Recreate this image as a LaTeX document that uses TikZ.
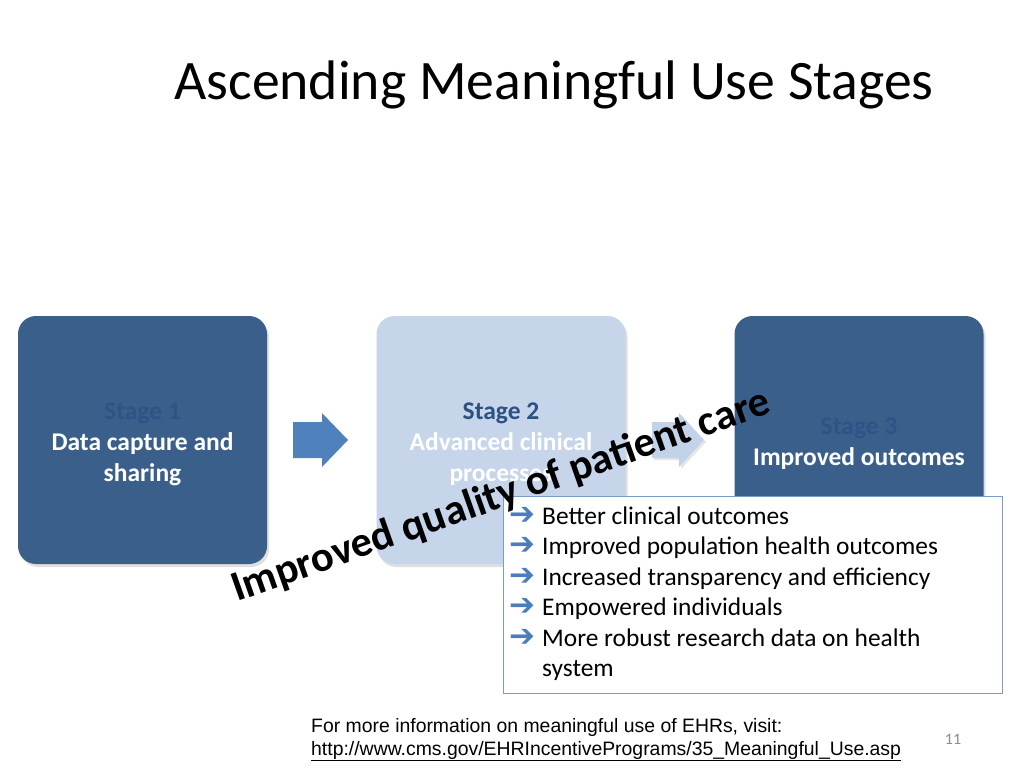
\documentclass[tikz,border=0pt]{standalone}
\usepackage{fontspec}
\setmainfont{Carlito}
\newfontfamily\arialfont{Liberation Sans}
\newfontfamily\glyphfont{DejaVu Sans}
\usetikzlibrary{shadows}

\definecolor{stagedark}{HTML}{3A5F8B}
\definecolor{stagelight}{HTML}{C7D5EA}
\definecolor{stageonetext}{HTML}{2F5386}
\definecolor{stagetwotext}{HTML}{2C5183}
\definecolor{arrowblue}{HTML}{4F81BD}
\definecolor{arrowlight}{HTML}{C2D2E8}
\definecolor{listedge}{HTML}{7A9CC8}
\definecolor{glyphblue}{HTML}{4A7EBB}
\definecolor{pagegray}{HTML}{8C8C8C}

\tikzset{
	stagebox/.style={rounded corners=18pt, minimum width=249pt, minimum height=248pt,
		drop shadow={shadow xshift=2pt, shadow yshift=-3pt, opacity=0.25}},
	stagetext/.style={align=center, text=white, inner sep=0pt, font=\fontsize{25.5}{31}\selectfont\bfseries},
	listitem/.style={anchor=base west, inner sep=0pt, font=\fontsize{25.4}{30.5}\selectfont},
	bullet/.style={anchor=base west, inner sep=0pt, text=glyphblue, font=\glyphfont\bfseries\fontsize{31}{30.5}\selectfont},
	footer/.style={anchor=base west, inner sep=0pt, font=\arialfont\fontsize{19.4}{22}\selectfont}
}

\begin{document}
\begin{tikzpicture}[x=1pt, y=-1pt]
	\fill[white] (0, 0) rectangle (1024, 768);
	\useasboundingbox (0, 0) rectangle (1024, 768);

	\node[anchor=base, font=\fontsize{55.7}{67}\selectfont] (title) at (554, 99) {Ascending Meaningful Use Stages};

	\node[stagebox, fill=stagedark] (stage1) at (142.5, 440) {};
	\node[stagebox, fill=stagelight] (stage2) at (501, 440) {};
	\node[stagebox, fill=stagedark] (stage3) at (859, 440) {};
	\node[stagetext] (stage1text) at (142.5, 444) {{\color{stageonetext}Stage 1}\\Data capture and\\sharing};
	\node[stagetext] (stage2text) at (501, 444) {{\color{stagetwotext}Stage 2}\\Advanced clinical\\processes};
	\node[stagetext] (stage3text) at (859, 444) {{\color{stageonetext}Stage 3}\\Improved outcomes};

	\fill[arrowblue] (293, 422) -- ++(29, 0) -- ++(0, -9) -- ++(26, 27) -- ++(-26, 27) -- ++(0, -9) -- ++(-29, 0) -- cycle;
	\fill[arrowlight, drop shadow={shadow xshift=2pt, shadow yshift=-2pt, opacity=0.2}] (652, 422) -- ++(27, 0) -- ++(0, -9) -- ++(25, 27) -- ++(-25, 27) -- ++(0, -9) -- ++(-27, 0) -- cycle;

	\node[draw=listedge, fill=white, line width=1pt, anchor=north west, minimum width=499pt, minimum height=197pt, inner sep=0pt] (outcomes) at (503, 496) {};
	\node[bullet] (b1) at (509, 524) {➔};
	\node[listitem] (item1) at (542, 524) {Better clinical outcomes};
	\node[bullet] (b2) at (509, 554.5) {➔};
	\node[listitem] (item2) at (542, 554.5) {Improved population health outcomes};
	\node[bullet] (b3) at (509, 585) {➔};
	\node[listitem] (item3) at (542, 585) {Increased transparency and efficiency};
	\node[bullet] (b4) at (509, 615.5) {➔};
	\node[listitem] (item4) at (542, 615.5) {Empowered individuals};
	\node[bullet] (b5) at (509, 646) {➔};
	\node[listitem] (item5) at (542, 646) {More robust research data on health};
	\node[listitem] (item6) at (542, 676.5) {system};

	\node[rotate=19.5, anchor=base west, inner sep=0pt, font=\fontsize{42.5}{50}\selectfont\bfseries] (quality) at (237, 602) {Improved quality of patient care};

	\node[footer] (info) at (311, 732) {For more information on meaningful use of EHRs, visit:};
	\node[footer] (url) at (311, 755) {\underline{http://www.cms.gov/EHRIncentivePrograms/35\_Meaningful\_Use.asp}};
	\node[font=\fontsize{16}{18}\selectfont, text=pagegray] (pagenum) at (953, 739) {11};
\end{tikzpicture}
\end{document}
